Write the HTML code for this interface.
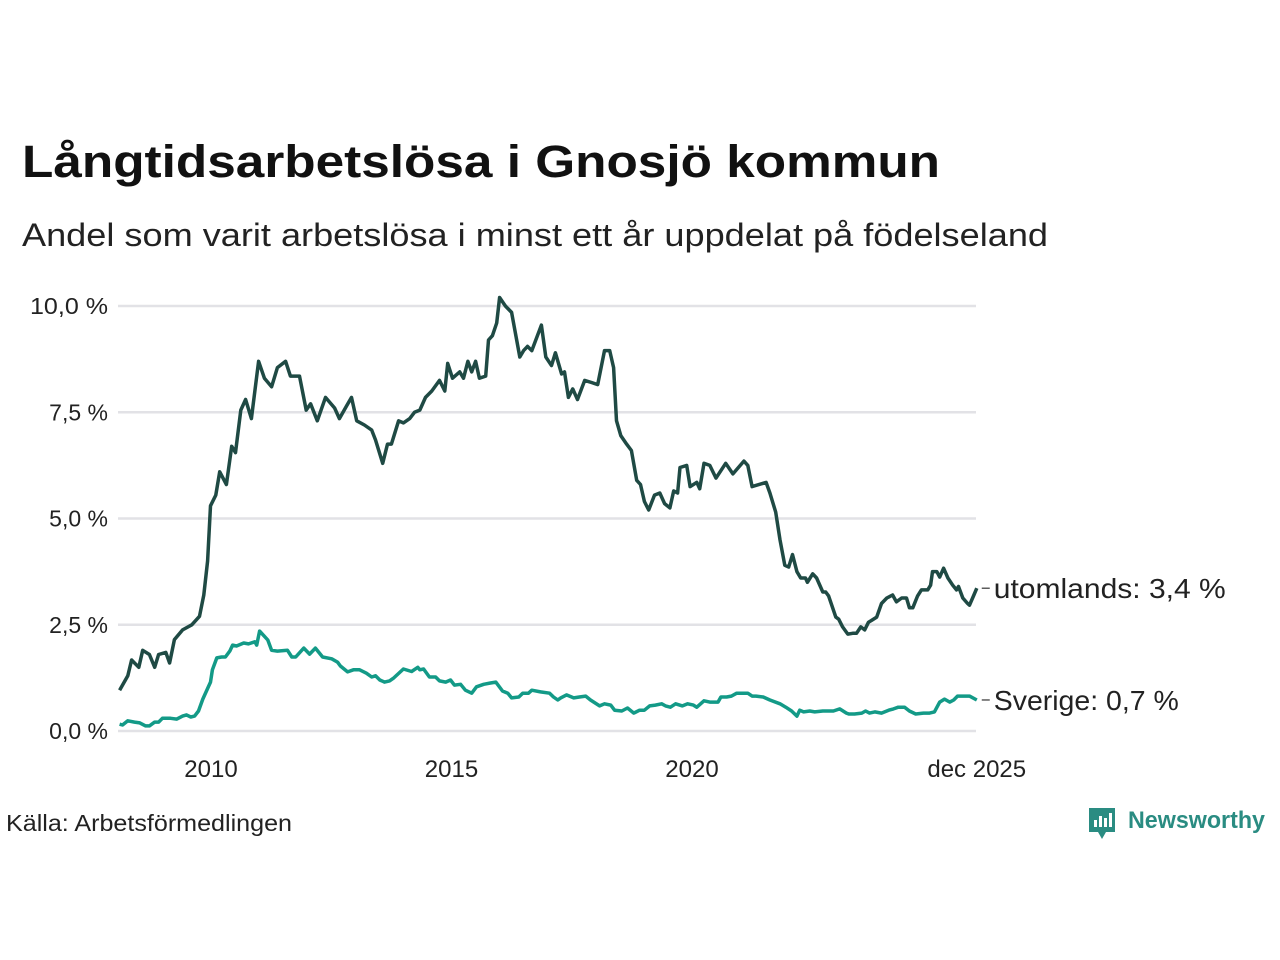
<!DOCTYPE html>
<html><head><meta charset="utf-8"><style>
body{margin:0;background:#fff;font-family:"Liberation Sans",sans-serif;}
svg{display:block}
</style></head><body>
<svg width="1280" height="960" viewBox="0 0 1280 960">
<text x="22" y="177" font-size="45" font-weight="bold" fill="#111" textLength="918" lengthAdjust="spacingAndGlyphs">Långtidsarbetslösa i Gnosjö kommun</text>
<text x="22" y="246" font-size="32" fill="#222" textLength="1026" lengthAdjust="spacingAndGlyphs">Andel som varit arbetslösa i minst ett år uppdelat på födelseland</text>
<g id="grid"></g>
<g id="yticks"></g>
<g id="xticks"></g>
<g id="lines"></g>
<text x="6" y="831" font-size="23" fill="#222" textLength="286" lengthAdjust="spacingAndGlyphs">Källa: Arbetsförmedlingen</text>
<g>
<path d="M1089 808 h26 v24 h-9 l-4 7 l-4 -7 h-9 z" fill="#2a8c82"/>
<rect x="1094" y="820" width="3" height="7" fill="#fff"/><rect x="1099" y="816" width="3" height="11" fill="#fff"/><rect x="1104" y="818" width="3" height="9" fill="#fff"/><rect x="1109" y="813" width="3" height="14" fill="#fff"/>
<text x="1128" y="828" font-size="24" font-weight="bold" fill="#2a8c82" textLength="137" lengthAdjust="spacingAndGlyphs">Newsworthy</text>
</g>
</svg>
<script>
const yTicks=[0,2.5,5,7.5,10];
const yTickLabels=["0,0 %","2,5 %","5,0 %","7,5 %","10,0 %"];
const xTicks=[2010,2015,2020,2025.92];
const xTickLabels=["2010","2015","2020","dec 2025"];
const foreignDates=[2008.10,2008.27,2008.35,2008.50,2008.58,2008.72,2008.83,2008.91,2009.06,2009.14,2009.24,2009.41,2009.60,2009.76,2009.85,2009.93,2009.99,2010.10,2010.18,2010.32,2010.43,2010.51,2010.62,2010.72,2010.84,2010.99,2011.11,2011.26,2011.38,2011.55,2011.65,2011.84,2011.98,2012.07,2012.21,2012.38,2012.57,2012.67,2012.82,2012.92,2013.03,2013.19,2013.34,2013.42,2013.57,2013.67,2013.75,2013.90,2014.00,2014.13,2014.23,2014.34,2014.46,2014.59,2014.75,2014.86,2014.92,2015.02,2015.17,2015.25,2015.34,2015.42,2015.50,2015.58,2015.71,2015.77,2015.85,2015.94,2016.00,2016.12,2016.25,2016.42,2016.50,2016.58,2016.67,2016.77,2016.87,2016.96,2017.08,2017.16,2017.29,2017.35,2017.43,2017.52,2017.62,2017.77,2017.91,2018.04,2018.18,2018.29,2018.37,2018.43,2018.52,2018.64,2018.74,2018.85,2018.93,2019.01,2019.10,2019.22,2019.33,2019.43,2019.54,2019.62,2019.70,2019.75,2019.89,2019.96,2020.10,2020.16,2020.25,2020.37,2020.50,2020.70,2020.85,2021.08,2021.16,2021.25,2021.54,2021.62,2021.74,2021.83,2021.93,2022.01,2022.09,2022.18,2022.26,2022.36,2022.40,2022.51,2022.59,2022.72,2022.78,2022.84,2022.99,2023.05,2023.13,2023.24,2023.34,2023.42,2023.51,2023.59,2023.67,2023.73,2023.84,2023.94,2024.05,2024.17,2024.25,2024.36,2024.46,2024.52,2024.59,2024.69,2024.77,2024.90,2024.96,2025.00,2025.09,2025.15,2025.23,2025.32,2025.42,2025.50,2025.54,2025.63,2025.73,2025.77,2025.86,2025.92];
const foreignValues=[0.96,1.3,1.67,1.5,1.9,1.8,1.5,1.8,1.85,1.6,2.15,2.38,2.5,2.7,3.2,4.0,5.3,5.55,6.1,5.8,6.7,6.55,7.55,7.8,7.35,8.7,8.3,8.1,8.55,8.7,8.35,8.35,7.55,7.7,7.3,7.85,7.6,7.35,7.65,7.85,7.3,7.2,7.08,6.85,6.3,6.75,6.75,7.3,7.25,7.35,7.5,7.55,7.85,8.0,8.25,8.0,8.65,8.3,8.45,8.3,8.7,8.45,8.7,8.3,8.35,9.2,9.3,9.6,10.2,10.0,9.85,8.8,8.95,9.05,8.95,9.25,9.55,8.8,8.6,8.9,8.4,8.45,7.85,8.05,7.8,8.25,8.2,8.15,8.95,8.95,8.55,7.3,6.95,6.75,6.6,5.9,5.8,5.4,5.2,5.55,5.6,5.35,5.25,5.65,5.6,6.2,6.25,5.75,5.85,5.7,6.3,6.25,5.95,6.3,6.05,6.35,6.25,5.75,5.85,5.6,5.15,4.5,3.9,3.86,4.15,3.75,3.6,3.6,3.5,3.7,3.6,3.27,3.27,3.18,2.68,2.63,2.45,2.28,2.3,2.3,2.45,2.38,2.56,2.6,2.68,3.0,3.13,3.2,3.04,3.13,3.13,2.9,2.9,3.18,3.32,3.32,3.43,3.75,3.75,3.62,3.83,3.6,3.43,3.32,3.4,3.13,3.0,2.96,3.2,3.36];
const swedenDates=[2008.10,2008.16,2008.27,2008.41,2008.52,2008.64,2008.72,2008.83,2008.91,2008.99,2009.16,2009.29,2009.41,2009.49,2009.58,2009.66,2009.74,2009.83,2009.93,2009.99,2010.03,2010.12,2010.22,2010.30,2010.39,2010.45,2010.53,2010.68,2010.78,2010.91,2010.95,2011.01,2011.18,2011.26,2011.38,2011.59,2011.68,2011.76,2011.93,2012.05,2012.17,2012.32,2012.51,2012.63,2012.69,2012.84,2012.96,2013.09,2013.23,2013.34,2013.42,2013.51,2013.61,2013.71,2013.80,2014.00,2014.17,2014.30,2014.34,2014.42,2014.54,2014.67,2014.75,2014.88,2014.98,2015.06,2015.19,2015.29,2015.42,2015.52,2015.67,2015.81,2015.92,2016.06,2016.17,2016.25,2016.40,2016.48,2016.60,2016.67,2016.85,2017.04,2017.12,2017.21,2017.27,2017.39,2017.54,2017.66,2017.79,2017.89,2018.08,2018.18,2018.31,2018.39,2018.54,2018.66,2018.79,2018.91,2019.01,2019.12,2019.24,2019.37,2019.45,2019.55,2019.66,2019.80,2019.91,2020.03,2020.10,2020.25,2020.37,2020.54,2020.60,2020.72,2020.82,2020.93,2020.99,2021.16,2021.25,2021.33,2021.48,2021.62,2021.83,2021.95,2022.07,2022.18,2022.24,2022.32,2022.45,2022.55,2022.72,2022.82,2022.94,2023.07,2023.21,2023.26,2023.38,2023.53,2023.61,2023.69,2023.80,2023.94,2024.09,2024.19,2024.29,2024.42,2024.52,2024.65,2024.81,2024.94,2025.04,2025.15,2025.25,2025.36,2025.44,2025.52,2025.65,2025.77,2025.92];
const swedenValues=[0.16,0.14,0.24,0.21,0.19,0.12,0.12,0.21,0.21,0.3,0.3,0.28,0.35,0.38,0.33,0.35,0.47,0.75,1.0,1.15,1.44,1.72,1.74,1.74,1.88,2.02,2.0,2.07,2.05,2.1,2.02,2.35,2.14,1.9,1.88,1.9,1.74,1.74,1.95,1.81,1.95,1.74,1.7,1.62,1.53,1.39,1.44,1.44,1.36,1.27,1.3,1.2,1.15,1.18,1.25,1.46,1.4,1.5,1.44,1.46,1.27,1.27,1.18,1.15,1.2,1.08,1.1,0.96,0.89,1.04,1.1,1.13,1.15,0.94,0.89,0.78,0.8,0.89,0.89,0.96,0.92,0.89,0.8,0.73,0.78,0.85,0.78,0.8,0.82,0.73,0.59,0.64,0.61,0.49,0.47,0.54,0.42,0.49,0.49,0.59,0.61,0.64,0.59,0.56,0.64,0.59,0.64,0.61,0.56,0.71,0.68,0.68,0.8,0.8,0.82,0.89,0.89,0.89,0.82,0.82,0.8,0.73,0.64,0.56,0.47,0.35,0.49,0.45,0.47,0.45,0.47,0.47,0.47,0.52,0.42,0.4,0.4,0.42,0.47,0.42,0.45,0.42,0.49,0.52,0.56,0.56,0.47,0.4,0.42,0.42,0.45,0.68,0.75,0.68,0.73,0.82,0.82,0.82,0.73];
const foreignLabel="utomlands: 3,4 %";
const swedenLabel="Sverige: 0,7 %";

const NS="http://www.w3.org/2000/svg";
const X0=2010,X1=2020,PX0=211,PX1=692;
function xs(t){return PX0+(t-X0)*(PX1-PX0)/(X1-X0);}
function ys(v){return 731-v*42.5;}
function mk(tag,attrs,parent){const e=document.createElementNS(NS,tag);for(const k in attrs)e.setAttribute(k,attrs[k]);parent.appendChild(e);return e;}
const grid=document.getElementById('grid'),yt=document.getElementById('yticks'),xt=document.getElementById('xticks'),lines=document.getElementById('lines');
yTicks.forEach((v,i)=>{
  const l=mk('line',{x1:118,x2:976,y1:ys(v),y2:ys(v),stroke:'#e2e2e6','stroke-width':2.5},grid);
  
  
  const t=mk('text',{x:108,y:ys(v)+8,'text-anchor':'end','font-size':23,fill:'#222'},yt);
  
  
  if(yTickLabels[i].length>5){t.setAttribute('textLength',78);t.setAttribute('lengthAdjust','spacingAndGlyphs');}
  t.textContent=yTickLabels[i];
});
xTicks.forEach((v,i)=>{
  const t=mk('text',{x:xs(v),y:777,'text-anchor':'middle','font-size':24,fill:'#222'},xt);
  
  
  t.textContent=xTickLabels[i];
});
function drawSeries(dates,vals,color,name,label,len){
  const d=dates.map((t,i)=>(i?'L':'M')+xs(t).toFixed(1)+' '+ys(vals[i]).toFixed(1)).join(' ');
  const p=mk('path',{d:d,fill:'none',stroke:color,'stroke-width':3.5,'stroke-linejoin':'round'},lines);
  
  
  const last=vals[vals.length-1],lx=xs(dates[dates.length-1]),ly=ys(last);
  const tk=mk('line',{x1:lx+5,x2:lx+13,y1:ly,y2:ly,stroke:'#333','stroke-width':1.2},lines);
  
  
  const t=mk('text',{x:lx+17,y:ly+10,'font-size':28,fill:'#222',textLength:len,lengthAdjust:'spacingAndGlyphs'},lines);
  
  
  t.textContent=label;
}
drawSeries(swedenDates,swedenValues,'#139a87','sweden',swedenLabel,185);
drawSeries(foreignDates,foreignValues,'#1f4a44','foreign',foreignLabel,232);
</script>
</body></html>
